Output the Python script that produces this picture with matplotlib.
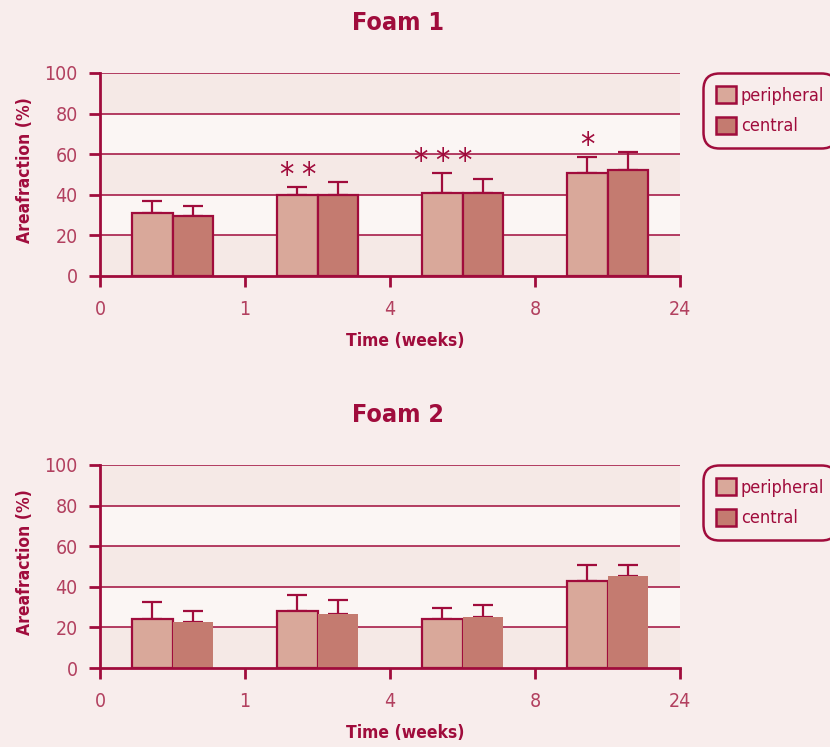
import matplotlib
matplotlib.use("Agg")
import matplotlib.pyplot as plt
import numpy as np

# Daten
time_labels = ["0", "1", "4", "8", "24"]
groups = [0.5, 1.5, 2.5, 3.5]

foam1_peripheral = [31, 40, 41, 50.5]
foam1_peripheral_err = [6, 4, 9.5, 8.3]
foam1_central = [29.5, 40, 41, 52]
foam1_central_err = [5, 6.5, 7, 9.2]
foam1_stars = [0, 2, 3, 1]

foam2_peripheral = [24, 28, 24, 43]
foam2_peripheral_err = [8.3, 8, 5.4, 7.8]
foam2_central = [22.7, 26.6, 25.1, 45.3]
foam2_central_err = [5.4, 6.9, 5.9, 5.4]

bg = "#F8EDEC"
band_dark = "#F5E9E6"
band_light = "#FBF6F4"
red = "#A00C3C"
tick_col = "#B2405F"
c_per = "#D9A89A"
c_cen = "#C47B70"

plt.rcParams["font.family"] = ["DejaVu Sans"]
plt.rcParams["font.stretch"] = "condensed"

fig = plt.figure(figsize=(8.3, 7.47), dpi=100, facecolor=bg)
W, H = 830, 747


def panel(top_px, title, per, per_err, cen, cen_err, stars, cen_edge):
    ax = fig.add_axes([100 / W, 1 - (top_px + 203) / H, 580 / W, 203 / H])
    ax.set_facecolor(bg)
    for i, lo in enumerate(range(0, 100, 20)):
        ax.axhspan(lo, lo + 20, color=band_dark if i % 2 == 0 else band_light, zorder=0, lw=0)
    for y in [20, 40, 60, 80, 100]:
        ax.axhline(y, color=red, lw=1.1, zorder=1)

    x = np.array(groups)
    w = 0.28
    ax.bar(x - w / 2, per, w, color=c_per, edgecolor=red, linewidth=1.6, zorder=3)
    if cen_edge:
        ax.bar(x + w / 2, cen, w, color=c_cen, edgecolor=red, linewidth=1.6, zorder=3)
    else:
        ax.bar(x + w / 2, cen, w, color=c_cen, linewidth=0, zorder=3)
    ax.errorbar(x - w / 2, per, yerr=[np.zeros(4), per_err], fmt="none", ecolor=red,
                elinewidth=1.6, capsize=7, capthick=1.6, zorder=2)
    ax.errorbar(x + w / 2, cen, yerr=[np.zeros(4), cen_err], fmt="none", ecolor=red,
                elinewidth=1.6, capsize=7, capthick=1.6, zorder=2)
    # Signifikanzsterne, einzeln gesetzt
    for xi, v, e, n in zip(x - w / 2, per, per_err, stars):
        for k in range(n):
            ax.text(xi + (k - (n - 1) / 2) * 0.15, v + e + 1.5, "*", ha="center",
                    va="baseline", color=red, fontsize=23)

    ax.set_xlim(0, 4)
    ax.set_ylim(0, 100)
    ax.set_xticks(range(5))
    ax.set_xticklabels(time_labels)
    ax.set_yticks(range(0, 101, 20))
    for s in ["top", "right"]:
        ax.spines[s].set_visible(False)
    for s in ["left", "bottom"]:
        ax.spines[s].set_color(red)
        ax.spines[s].set_linewidth(2)
        ax.spines[s].set_zorder(5)
    ax.tick_params(axis="both", colors=red, labelcolor=tick_col, length=8, width=2,
                   labelsize=14)
    ax.tick_params(axis="x", pad=9)
    ax.tick_params(axis="y", pad=8)

    ax.set_ylabel("Areafraction (%)", color=red, fontsize=12.5, fontweight="bold")
    ax.yaxis.set_label_coords(-0.129, 0.52)
    ax.yaxis.label.set_va("center")
    ax.set_xlabel("Time (weeks)", color=red, fontsize=12.5, fontweight="bold")
    ax.xaxis.set_label_coords(0.526, -0.32)
    ax.xaxis.label.set_va("center")

    fig.text(398 / W, 1 - (top_px - 50) / H, title, ha="center", va="center",
             color=red, fontsize=18, fontweight="bold")

    h1 = plt.Rectangle((0, 0), 1, 1, facecolor=c_per, edgecolor=red, linewidth=1.8)
    h2 = plt.Rectangle((0, 0), 1, 1, facecolor=c_cen, edgecolor=red, linewidth=1.8)
    leg = ax.legend([h1, h2], ["peripheral", "central"], loc="upper left",
                    bbox_to_anchor=(703 / W, 1 - top_px / H), bbox_transform=fig.transFigure,
                    fontsize=13, frameon=True, fancybox=True, handlelength=1.1,
                    handleheight=1.1, handletextpad=0.28, labelspacing=0.65,
                    borderpad=0.72, borderaxespad=0)
    fr = leg.get_frame()
    fr.set_facecolor(bg)
    fr.set_edgecolor(red)
    fr.set_linewidth(1.8)
    fr.set_alpha(1)
    fr.set_boxstyle("round,pad=0,rounding_size=0.9")
    for t in leg.get_texts():
        t.set_color(red)
    return ax


panel(73, "Foam 1", foam1_peripheral, foam1_peripheral_err, foam1_central,
      foam1_central_err, foam1_stars, True)
panel(465, "Foam 2", foam2_peripheral, foam2_peripheral_err, foam2_central,
      foam2_central_err, [0, 0, 0, 0], False)

fig.savefig("out.png", dpi=100, facecolor=bg)
